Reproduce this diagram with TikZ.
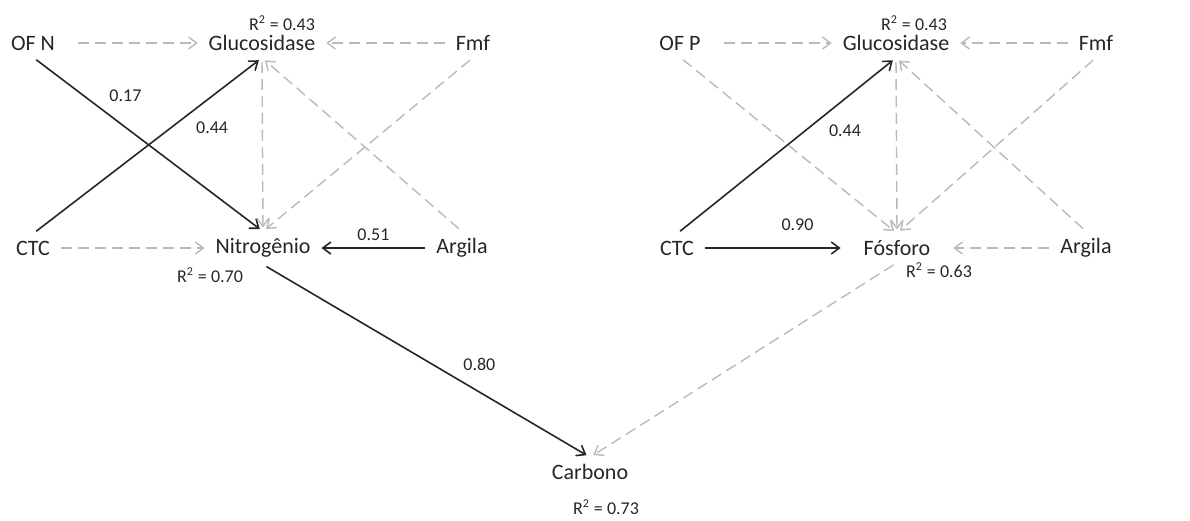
\documentclass[tikz,border=0pt]{standalone}
\usepackage{fontspec}
\setmainfont{Carlito}
\usetikzlibrary{arrows.meta}

\begin{document}
\begin{tikzpicture}[x=0.5pt, y=-0.5pt,
    var/.style={font=\fontsize{11}{13}\selectfont, text=black!85},
    coef/.style={font=\fontsize{9}{11}\selectfont, text=black!85},
    sig/.style={-{Straight Barb[length=4pt,width=6pt]}, line width=0.8pt, black!85,
        shorten <=2pt, shorten >=2pt},
    nsig/.style={-{Straight Barb[length=4pt,width=6pt]}, line width=0.7pt, gray!55,
        dash pattern=on 5.5pt off 3pt, shorten <=2pt, shorten >=2pt}]

    \useasboundingbox (0,0) rectangle (1190,520);

    % Nitrogen side
    \node[var] (ofn) at (33,43) {OF N};
    \node[var] (glucn) at (262,43) {Glucosidase};
    \node[var] (fmfn) at (473,43) {Fmf};
    \node[var] (ctcn) at (33,248) {CTC};
    \node[var] (nitro) at (263,248) {Nitrog\^enio};
    \node[var] (argn) at (462,248) {Argila};

    \node[coef] (rglucn) at (282,23) {R\textsuperscript{2} = 0.43};
    \node[coef] (rnitro) at (210,275) {R\textsuperscript{2} = 0.70};

    \draw[nsig, shorten <=8pt] (ofn.east) -- (glucn.west);
    \draw[nsig] (fmfn.west) -- (glucn.east);
    \draw[nsig] (ctcn.east) -- (nitro.west);
    \draw[sig] (argn.west) -- (nitro.east) node[coef, pos=0.5, above] {0.51};

    \draw[sig] (ofn.south) -- (nitro.north) node[coef, pos=0.3, above right] {0.17};
    \draw[sig] (ctcn.north) -- (glucn.south) node[coef, pos=0.68, below right] {0.44};
    \draw[nsig] (glucn.south) -- (nitro.north);
    \draw[nsig] (argn.north) -- (glucn.south);
    \draw[nsig] (fmfn.south) -- (nitro.north);

    % Phosphorus side
    \node[var] (ofp) at (680,43) {OF P};
    \node[var] (glucp) at (896,43) {Glucosidase};
    \node[var] (fmfp) at (1096,43) {Fmf};
    \node[var] (ctcp) at (677,248) {CTC};
    \node[var] (fosf) at (897,248) {F\'osforo};
    \node[var] (argp) at (1086,248) {Argila};

    \node[coef] (rglucp) at (914,23) {R\textsuperscript{2} = 0.43};
    \node[coef] (rfosf) at (939,270) {R\textsuperscript{2} = 0.63};

    \draw[nsig, shorten <=8pt] (ofp.east) -- (glucp.west);
    \draw[nsig] (fmfp.west) -- (glucp.east);
    \draw[sig, shorten >=8pt] (ctcp.east) -- (fosf.west) node[coef, pos=0.62, above=5pt] {0.90};
    \draw[nsig, shorten >=8pt] (argp.west) -- (fosf.east);

    \draw[sig] (ctcp.north) -- (glucp.south) node[coef, pos=0.66, below right] {0.44};
    \draw[nsig] (ofp.south) -- (fosf.north);
    \draw[nsig] (glucp.south) -- (fosf.north);
    \draw[nsig] (argp.north) -- (glucp.south);
    \draw[nsig] (fmfp.south) -- (fosf.north);

    % Carbon
    \node[var] (carb) at (590,472) {Carbono};
    \node[coef] (rcarb) at (606,507) {R\textsuperscript{2} = 0.73};

    \draw[sig] (nitro.south) -- (carb.north) node[coef, pos=0.59, above right] {0.80};
    \draw[nsig] (fosf.south) -- (carb.north);

\end{tikzpicture}
\end{document}
